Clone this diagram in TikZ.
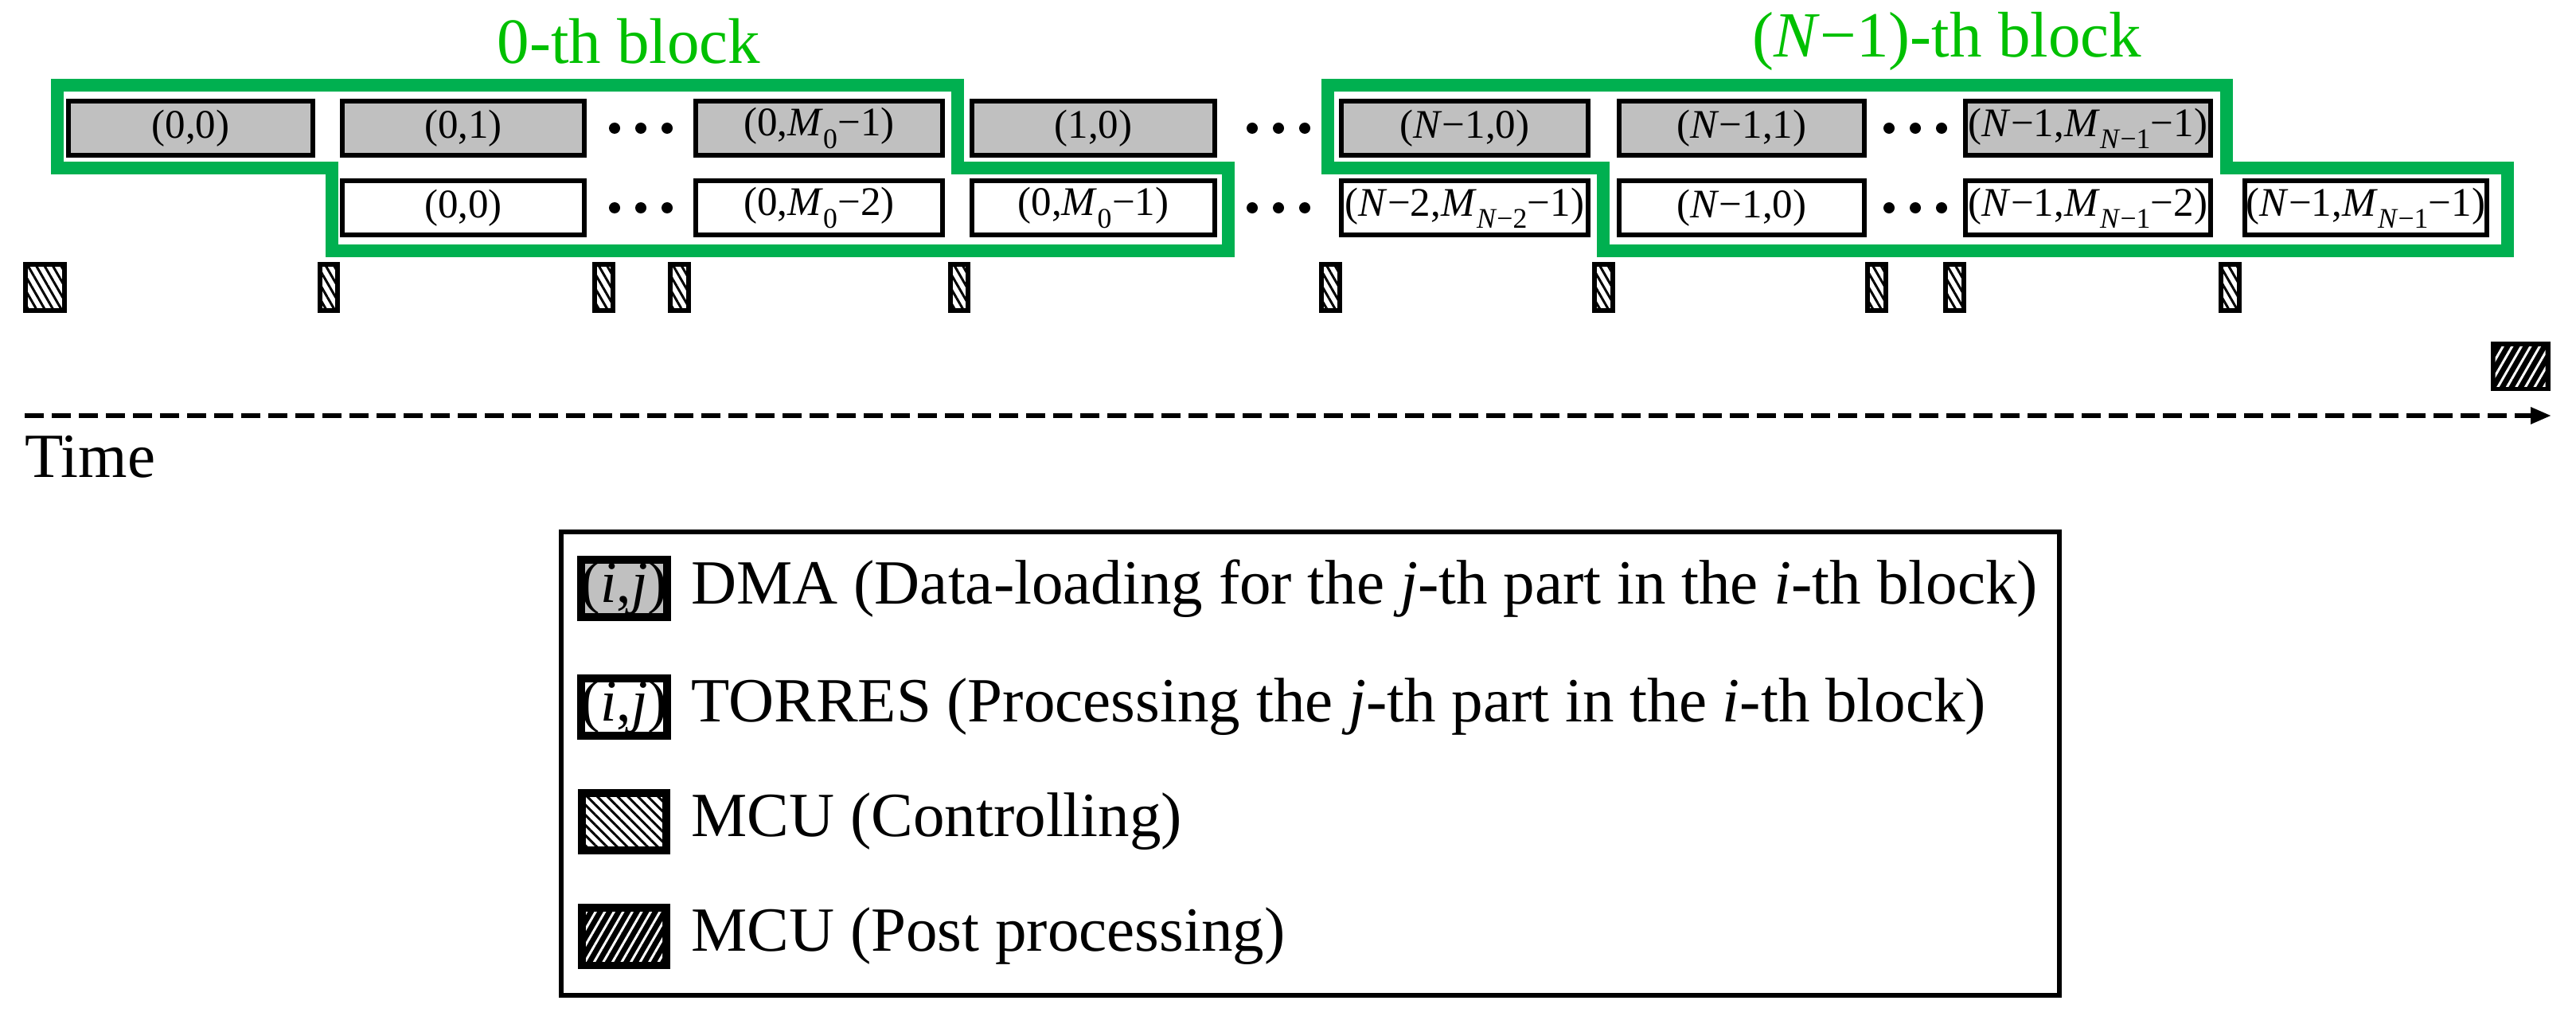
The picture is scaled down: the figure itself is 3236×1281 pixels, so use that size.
\documentclass[tikz,border=0pt]{standalone}
\usepackage{fontspec}
\setmainfont{Liberation Serif}
\usetikzlibrary{patterns.meta,arrows.meta,calc}
\definecolor{gbox}{HTML}{00B050}
\definecolor{gtxt}{HTML}{00C000}
\definecolor{dgray}{HTML}{C0C0C0}
\newcommand\mi[1]{\textit{#1}}
\newcommand\bxx[6]{\node[box,#5,minimum width={#3-#2-6pt}] (#1) at ({(#2+#3)/2},#4) {#6};}
\newcommand\tick[3]{\node[tk,minimum width={#3-#2-6pt}] (#1) at ({(#2+#3)/2},361) {};}
\newcommand\dotsat[2]{\fill (#1-33,#2) circle (7) (#1,#2) circle (7) (#1+33,#2) circle (7);}
\begin{document}
\begin{tikzpicture}[x=1pt,y=-1pt,
  box/.style={draw,line width=6pt,minimum height=68pt,inner sep=0pt,font=\fontsize{51}{55}\selectfont},
  dma/.style={fill=dgray},
  tor/.style={fill=white},
  tk/.style={draw,line width=6pt,minimum height=58pt,inner sep=0pt,fill=white,
    pattern={Lines[angle=-60,distance=9pt,line width=3pt]}},
  green/.style={draw=gbox,line width=16pt,line join=miter},
  sw/.style={draw,line width=10pt,minimum width=106pt,minimum height=72pt,inner sep=0pt,font=\fontsize{74}{78}\selectfont},
  lg/.style={font=\fontsize{79}{83}\selectfont,anchor=west}]
\useasboundingbox (0,0) rectangle (3236,1281);
% titles
\node[text=gtxt,font=\fontsize{81}{85}\selectfont] (t0) at (790,52) {0-th block};
\node[text=gtxt,font=\fontsize{81}{85}\selectfont] (t1) at (2446,52) {(\mi{N}−1)-th block};
% green outlines
\draw[green] (72,107) -- (1203,107) -- (1203,211) -- (1543,211) -- (1543,315) -- (417,315) -- (417,211) -- (72,211) -- cycle;
\draw[green] (1668,107) -- (2797,107) -- (2797,211) -- (3150,211) -- (3150,315) -- (2014,315) -- (2014,211) -- (1668,211) -- cycle;
% row 1
\bxx{a1}{83}{396}{161}{dma}{(0,0)}
\bxx{a2}{427}{737}{161}{dma}{(0,1)}
\bxx{a3}{871}{1187}{161}{dma}{(0,\mi{M}\textsubscript{0}−1)}
\bxx{a4}{1218}{1529}{161}{dma}{(1,0)}
\bxx{a5}{1682}{1998}{161}{dma}{(\mi{N}−1,0)}
\bxx{a6}{2031}{2345}{161}{dma}{(\mi{N}−1,1)}
\bxx{a7}{2466}{2780}{161}{dma}{(\mi{N}−1,\mi{M}\textsubscript{\mi{N}−1}−1)}
% row 2
\bxx{b1}{427}{737}{261}{tor}{(0,0)}
\bxx{b2}{871}{1187}{261}{tor}{(0,\mi{M}\textsubscript{0}−2)}
\bxx{b3}{1218}{1529}{261}{tor}{(0,\mi{M}\textsubscript{0}−1)}
\bxx{b4}{1682}{1998}{261}{tor}{(\mi{N}−2,\mi{M}\textsubscript{\mi{N}−2}−1)}
\bxx{b5}{2031}{2345}{261}{tor}{(\mi{N}−1,0)}
\bxx{b6}{2466}{2780}{261}{tor}{(\mi{N}−1,\mi{M}\textsubscript{\mi{N}−1}−2)}
\bxx{b7}{2817}{3127}{261}{tor}{(\mi{N}−1,\mi{M}\textsubscript{\mi{N}−1}−1)}
% dots
\dotsat{805}{161}\dotsat{805}{261}
\dotsat{1606}{161}\dotsat{1606}{261}
\dotsat{2406}{161}\dotsat{2406}{261}
% MCU ticks
\node[tk,minimum width=49pt,pattern={Lines[angle=-60,distance=9pt,line width=3pt]}] (c0) at (56,361) {};
\tick{c1}{399}{427}
\tick{c2}{744}{773}
\tick{c3}{839}{868}
\tick{c4}{1191}{1219}
\tick{c5}{1657}{1686}
\tick{c6}{2000}{2029}
\tick{c7}{2343}{2372}
\tick{c8}{2441}{2470}
\tick{c9}{2787}{2816}
\node[draw,line width=6pt,fill=black,minimum width=69pt,minimum height=56pt,inner sep=0pt] (pp) at (3166,460) {};
\fill[pattern={Lines[angle=60,distance=10pt,line width=3pt]},pattern color=white] ($(pp.south west)+(6,-6)$) rectangle ($(pp.north east)+(-6,6)$);
% time axis
\coordinate (ts) at (31,522);
\coordinate (te) at (3205,522);
\draw[line width=6pt,dash pattern=on 24pt off 10pt,-{Triangle[length=26pt,width=20pt]}] (ts) -- (te);
\node[anchor=west,font=\fontsize{79}{83}\selectfont,inner sep=0pt] (time) at (31,574) {Time};
% legend
\node[draw,line width=6pt,minimum width=1882pt,minimum height=582pt] (leg) at (1646,959) {};
\node[sw,fill=dgray] (l1) at (784,739) {(\mi{i},\mi{j})};
\node[sw,fill=white] (l2) at (784,888) {(\mi{i},\mi{j})};
\node[sw,fill=white,pattern={Lines[angle=-45,distance=9pt,line width=3pt]}] (l3) at (784,1032) {};
\node[sw,fill=black] (l4) at (784,1176) {};
\fill[pattern={Lines[angle=60,distance=10pt,line width=3pt]},pattern color=white] ($(l4.south west)+(10,-10)$) rectangle ($(l4.north east)+(-10,10)$);
\node[lg] (x1) at (865,739) {DMA (Data-loading for the \mi{j}-th part in the \mi{i}-th block)};
\node[lg] (x2) at (865,888) {TORRES (Processing the \mi{j}-th part in the \mi{i}-th block)};
\node[lg] (x3) at (865,1032) {MCU (Controlling)};
\node[lg] (x4) at (865,1176) {MCU (Post processing)};
\end{tikzpicture}
\end{document}
